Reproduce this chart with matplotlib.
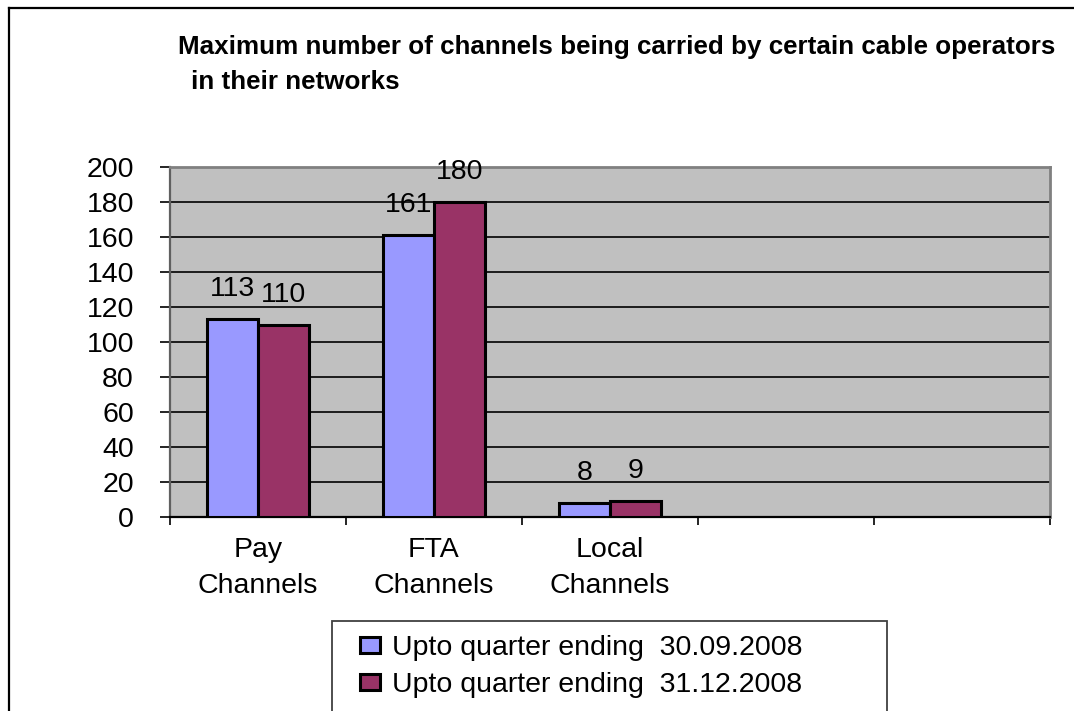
import matplotlib
matplotlib.use("Agg")
import matplotlib.pyplot as plt
from matplotlib.lines import Line2D
from matplotlib.patches import Rectangle
import numpy as np

plt.rcParams['font.family'] = ['Liberation Sans', 'DejaVu Sans']

categories = ["Pay\nChannels", "FTA\nChannels", "Local\nChannels", "", ""]
series_names = ["Upto quarter ending  30.09.2008", "Upto quarter ending  31.12.2008"]
sep_2008 = [113, 161, 8]
dec_2008 = [110, 180, 9]
colors = ["#9999FF", "#993366"]
y_ticks = list(range(0, 201, 20))

FS = 20.5
W, H = 1074, 711
fig = plt.figure(figsize=(W / 100, H / 100), dpi=100)

def px(x, y):
    return x / W, 1 - y / H

# outer chart frame (top and left edges)
fig.add_artist(Line2D([px(9, 0)[0], 1.0], [px(0, 8)[1]] * 2, color="black", lw=1.6,
                      transform=fig.transFigure))
fig.add_artist(Line2D([px(9, 0)[0]] * 2, [px(0, 8)[1], 0.0], color="black", lw=1.6,
                      transform=fig.transFigure))

left, top, right, bottom = 170, 167, 1050, 517
ax = fig.add_axes([left / W, 1 - bottom / H, (right - left) / W, (bottom - top) / H])
ax.set_facecolor("#C0C0C0")

n_slots = len(categories)
centers = np.arange(n_slots) + 0.5
bw = 51 / 176
for i, (vals, col) in enumerate(zip([sep_2008, dec_2008], colors)):
    xs = centers[:len(vals)] + (i - 0.5) * bw
    bars = ax.bar(xs, vals, width=bw, color=col, edgecolor="black", linewidth=2.2,
                  label=series_names[i], zorder=3)
    for b, v in zip(bars, vals):
        ax.annotate(str(v), (b.get_x() + b.get_width() / 2, v), xytext=(0, 17),
                    textcoords="offset pixels", ha="center", va="bottom",
                    fontsize=FS, zorder=4)

ax.set_xlim(0, n_slots)
ax.set_ylim(0, 200)
ax.set_yticks(y_ticks)
ax.set_yticklabels([str(t) for t in y_ticks], fontsize=FS)
ax.yaxis.grid(True, color="black", lw=1.2, zorder=1)
ax.set_axisbelow(True)

ax.set_xticks(np.arange(n_slots + 1))
ax.set_xticklabels([])
ax.set_xticks(centers, minor=True)
ax.set_xticklabels(categories, minor=True, fontsize=FS, linespacing=1.5)
ax.tick_params(axis="x", which="major", length=5.5, width=1.2, direction="out", color="black")
ax.tick_params(axis="x", which="minor", length=0, pad=14.5)
ax.tick_params(axis="y", length=7, width=1.2, direction="out", color="black", pad=19)

for s in ["top", "right"]:
    ax.spines[s].set_color("#808080")
    ax.spines[s].set_linewidth(2)
ax.spines["left"].set_color("#606060")
ax.spines["left"].set_linewidth(1.6)
ax.spines["bottom"].set_color("black")
ax.spines["bottom"].set_linewidth(1.6)

# title, two lines
fig.text(*px(178, 47), "Maximum number of channels being carried by certain cable operators",
         fontsize=18.7, fontweight="bold", ha="left", va="center")
fig.text(*px(191, 82), "in their networks",
         fontsize=18.7, fontweight="bold", ha="left", va="center")

# legend box
x0, y0 = px(332, 621)
x1, _ = px(887, 0)
fig.add_artist(Rectangle((x0, -0.05), x1 - x0, y0 + 0.05, transform=fig.transFigure,
                         facecolor="white", edgecolor="#404040", lw=1.3))
handles, labels = ax.get_legend_handles_labels()
leg = fig.legend(handles, labels, loc="upper left", bbox_to_anchor=px(360, 635),
                 frameon=False, fontsize=FS, handlelength=0.7, handleheight=0.5,
                 handletextpad=0.42, labelspacing=0.38, borderpad=0, borderaxespad=0)
for h in leg.legend_handles:
    h.set_linewidth(2.2)

fig.savefig("out.png", dpi=100)
